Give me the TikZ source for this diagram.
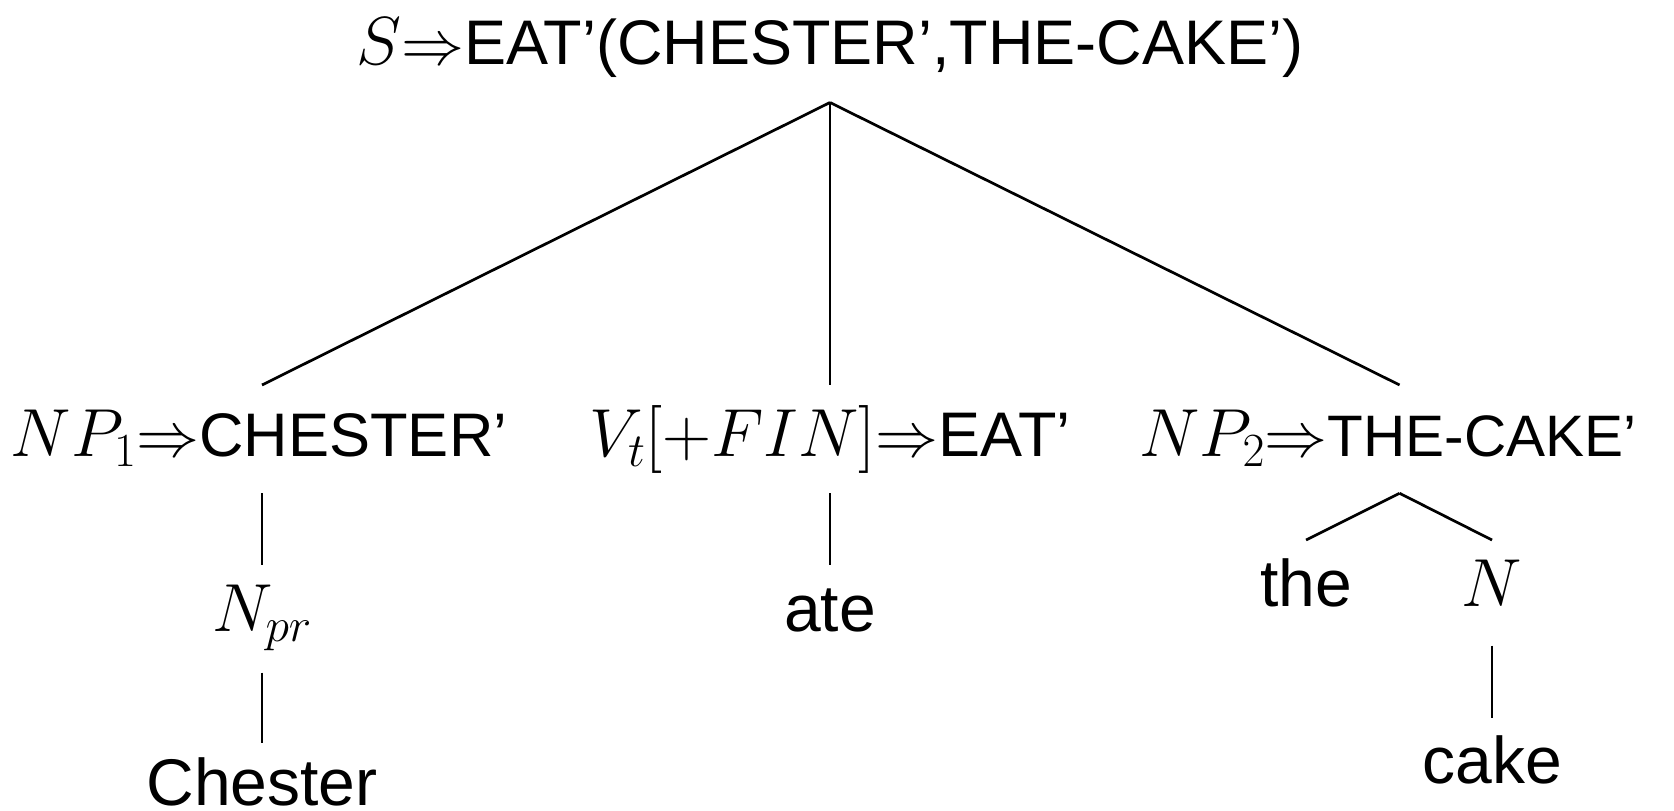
\RequirePackage{fix-cm}
\documentclass[tikz,border=0pt]{standalone}
\usepackage[no-math]{fontspec}
\setmainfont{Liberation Sans}
% category symbols in math italic, a little larger than the sans labels
\newcommand\mth[1]{{\fontsize{68}{80}\selectfont$#1$}}
\newcommand\imp{$\Rightarrow$}
\newcommand\sem[2]{{\fontsize{#1}{#1}\selectfont #2}}
\begin{document}
\begin{tikzpicture}[x=1pt,y=-1pt,
  lbl/.style={anchor=base,inner sep=0pt,font=\fontsize{63}{75}\selectfont},
  word/.style={anchor=base,inner sep=0pt,font=\fontsize{66}{78}\selectfont},
  branch/.style={line width=2.7pt}]
\useasboundingbox (0,0) rectangle (1674,811);

% labelled nodes
\node[lbl] (s)   at (830,64)     {\mth{S}\imp EAT'(CHESTER',THE-CAKE')};
\node[lbl] (np1) at (259,456)    {\mth{NP_1}\imp\sem{61.5}{CHESTER'}};
\node[lbl] (vt)  at (830,456)    {\mth{V_t[+FIN]}\imp EAT'};
\node[lbl] (np2) at (1388,456)   {\mth{NP_2}\imp\sem{58.5}{THE-CAKE'}};
\node[word] (npr) at (262,631.7) {\mth{N_{pr}}};
\node[word] (chester) at (262,805) {Chester};
\node[word] (ate) at (830,631.7) {ate};
\node[word] (the) at (1306,606)  {the};
\node[word] (n)   at (1492,606)  {\mth{N}};
\node[word] (cake) at (1492,783.3) {cake};

% branch end points, set just off each label
\coordinate (s-dn)   at ([yshift=-38.5pt]s.base);
\coordinate (np1-up) at ([xshift=3pt,yshift=71pt]np1.base);
\coordinate (np1-dn) at ([xshift=3pt,yshift=-37pt]np1.base);
\coordinate (vt-up)  at ([yshift=71pt]vt.base);
\coordinate (vt-dn)  at ([yshift=-37pt]vt.base);
\coordinate (np2-up) at ([xshift=11.6pt,yshift=71pt]np2.base);
\coordinate (np2-dn) at ([xshift=11.6pt,yshift=-37.3pt]np2.base);
\coordinate (npr-up) at ([yshift=66.7pt]npr.base);
\coordinate (npr-dn) at ([yshift=-41pt]npr.base);
\coordinate (chester-up) at ([yshift=61.7pt]chester.base);
\coordinate (ate-up) at ([yshift=66.7pt]ate.base);
\coordinate (the-up) at ([yshift=66pt]the.base);
\coordinate (n-up)   at ([yshift=66pt]n.base);
\coordinate (n-dn)   at ([yshift=-39.7pt]n.base);
\coordinate (cake-up) at ([yshift=65pt]cake.base);

% branches
\draw[branch] (s-dn) -- (np1-up);
\draw[branch] (s-dn) -- (vt-up);
\draw[branch] (s-dn) -- (np2-up);
\draw[branch] (np1-dn) -- (npr-up);
\draw[branch] (npr-dn) -- (chester-up);
\draw[branch] (vt-dn) -- (ate-up);
\draw[branch] (np2-dn) -- (the-up);
\draw[branch] (np2-dn) -- (n-up);
\draw[branch] (n-dn) -- (cake-up);
\end{tikzpicture}
\end{document}
